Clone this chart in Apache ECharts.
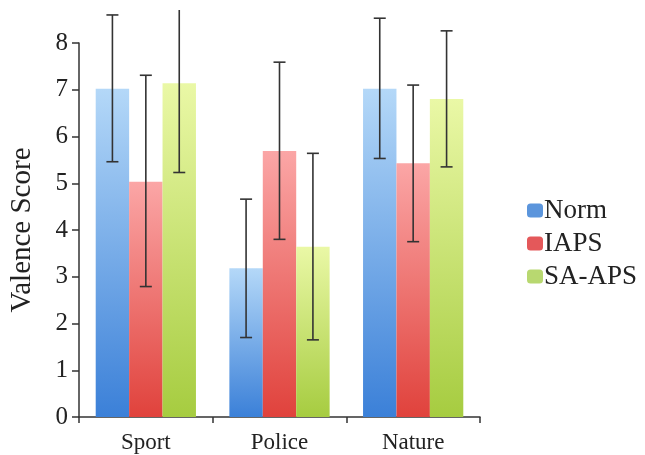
<!DOCTYPE html>
<html><head><meta charset="utf-8">
<script src="https://cdn.jsdelivr.net/npm/echarts@6/dist/echarts.min.js"></script>
<style>html,body{margin:0;padding:0;background:#fff}#c{width:645px;height:455px}</style>
</head><body><div id="c"></div>
<script>
const categories = ['Sport', 'Police', 'Nature'];
const seriesNames = ['Norm', 'IAPS', 'SA-APS'];
const normValues = [7.02, 3.18, 7.02];
const iapsValues = [5.03, 5.69, 5.43];
const saapsValues = [7.14, 3.64, 6.80];
const normErrLow = [5.46, 1.70, 5.53];
const normErrHigh = [8.60, 4.66, 8.53];
const iapsErrLow = [2.79, 3.80, 3.75];
const iapsErrHigh = [7.31, 7.59, 7.10];
const saapsErrLow = [5.23, 1.65, 5.35];
const saapsErrHigh = [9.05, 5.64, 8.26];
const yTicks = [0, 1, 2, 3, 4, 5, 6, 7, 8];

const font = 'Liberation Serif';
function grad(top, bottom) {
  return new echarts.graphic.LinearGradient(0, 0, 0, 1, [
    {offset: 0, color: top}, {offset: 1, color: bottom}
  ]);
}
const fills = [
  grad('#b4d8f8', '#3b80d8'),
  grad('#fba6a6', '#e0423c'),
  grad('#eaf8a6', '#a6cc40')
];
const legendFills = ['#5b95dc', '#e4585a', '#b8d870'];
const values = [normValues, iapsValues, saapsValues];
const lows = [normErrLow, iapsErrLow, saapsErrLow];
const highs = [normErrHigh, iapsErrHigh, saapsErrHigh];

const series = [];
seriesNames.forEach((n, i) => {
  series.push({
    name: n, type: 'bar', data: values[i],
    barCategoryGap: '25%', barGap: '0%',
    itemStyle: {color: fills[i]},
    emphasis: {disabled: true}
  });
});
seriesNames.forEach((n, i) => {
  series.push({
    type: 'custom', name: n + ' err', clip: false, z: 5,
    data: categories.map((c, k) => [k, lows[i][k], highs[i][k]]),
    renderItem: function (params, api) {
      const x = api.value(0);
      const lo = api.coord([x, api.value(1)]);
      const hi = api.coord([x, api.value(2)]);
      const bw = api.size([1, 0])[0] * 0.75 / 3;
      const cx = lo[0] + (i - 1) * bw;
      const cap = 6;
      const topLimit = 10;
      const clipped = hi[1] < topLimit;
      const yTop = clipped ? topLimit : hi[1];
      const st = {stroke: '#333', lineWidth: 1.6};
      const kids = [
        {type: 'line', shape: {x1: cx, y1: lo[1], x2: cx, y2: yTop}, style: st},
        {type: 'line', shape: {x1: cx - cap, y1: lo[1], x2: cx + cap, y2: lo[1]}, style: st}
      ];
      if (!clipped) kids.push({type: 'line', shape: {x1: cx - cap, y1: yTop, x2: cx + cap, y2: yTop}, style: st});
      return {type: 'group', children: kids};
    }
  });
});

const chart = echarts.init(document.getElementById('c'), null, {renderer: 'canvas'});
chart.setOption({
  animation: false,
  backgroundColor: '#fff',
  grid: {left: 78, right: 165, top: 43, bottom: 38},
  legend: {
    orient: 'vertical', left: 522, top: 192,
    itemWidth: 16, itemHeight: 14, itemGap: 6,
    data: seriesNames.map((n, i) => ({name: n, itemStyle: {color: legendFills[i]}})),
    textStyle: {fontFamily: font, fontSize: 27, color: '#222', padding: [0, 0, 0, -4]},
    selectedMode: false
  },
  xAxis: {
    type: 'category', data: categories,
    axisLine: {lineStyle: {color: '#333', width: 1.5}},
    axisTick: {show: true, length: 6, alignWithLabel: false, lineStyle: {color: '#333', width: 1.5}},
    axisLabel: {fontFamily: font, fontSize: 23, color: '#222', margin: 14}
  },
  yAxis: {
    type: 'value', min: 0, max: 8, interval: 1,
    name: 'Valence Score', nameLocation: 'middle', nameGap: 42,
    nameTextStyle: {fontFamily: font, fontSize: 29, color: '#222'},
    axisLine: {show: true, lineStyle: {color: '#333', width: 1.5}},
    axisTick: {show: true, length: 7, lineStyle: {color: '#333', width: 1.5}},
    splitLine: {show: false},
    axisLabel: {fontFamily: font, fontSize: 25, color: '#222', margin: 11,
      formatter: v => yTicks.includes(v) ? String(v) : ''}
  },
  series: series
});
</script></body></html>
